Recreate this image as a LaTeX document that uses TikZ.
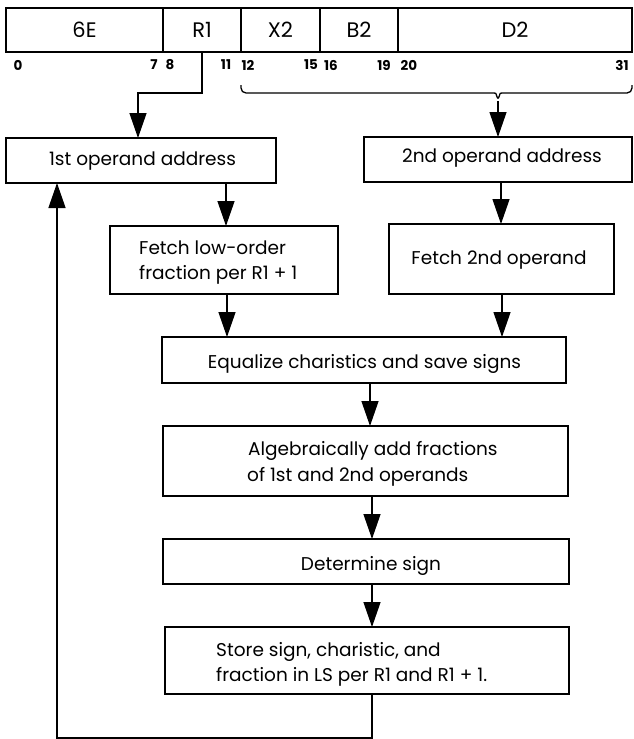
\documentclass[tikz,border=0pt]{standalone}
\usepackage{fontspec}
\setmainfont{Poppins}
\usetikzlibrary{arrows.meta}

\tikzset{
  stepbox/.style={draw, line width=2.2pt, inner sep=0pt, outer sep=0pt},
  field/.style={draw, line width=1.3pt, inner sep=0pt, outer sep=0pt,
    font=\fontsize{21}{24}\selectfont},
  bitno/.style={inner sep=0pt, font=\fontsize{13.5}{15}\selectfont\bfseries},
  label/.style={inner sep=0pt, anchor=base, font=\fontsize{18.5}{22}\selectfont},
  leftlabel/.style={label, anchor=base west},
  conn/.style={line width=1.3pt},
  arr/.style={conn, -{Triangle[length=25pt, width=17pt]}},
}

\begin{document}
\begin{tikzpicture}[x=1pt, y=-1pt]
\useasboundingbox (0,0) rectangle (634,739);

% instruction format fields
\node[field, minimum width=157pt, minimum height=44pt] (fE)  at (84.5,30) {6E};
\node[field, minimum width=78pt,  minimum height=44pt] (fR1) at (202,30)  {R1};
\node[field, minimum width=79pt,  minimum height=44pt] (fX2) at (280.5,30) {X2};
\node[field, minimum width=78pt,  minimum height=44pt] (fB2) at (359,30)  {B2};
\node[field, minimum width=234pt, minimum height=44pt] (fD2) at (515,30)  {D2};
\node[draw, line width=2pt, inner sep=0pt, minimum width=626pt, minimum height=44pt] (reg) at (319,30) {};

% bit positions
\node[bitno] (b0)  at (18,65)  {0};
\node[bitno] (b7)  at (154,65) {7};
\node[bitno] (b8)  at (170,65) {8};
\node[bitno] (b11) at (226,65) {11};
\node[bitno] (b12) at (248,65) {12};
\node[bitno] (b15) at (311,65) {15};
\node[bitno] (b16) at (331,65) {16};
\node[bitno] (b19) at (384,65) {19};
\node[bitno] (b20) at (409,65) {20};
\node[bitno] (b31) at (622,65) {31};

% flowchart boxes
\node[stepbox, minimum width=270pt, minimum height=45pt] (op1)    at (141,160.5)  {};
\node[stepbox, minimum width=268pt, minimum height=45pt] (op2)    at (498,159.5)  {};
\node[stepbox, minimum width=228pt, minimum height=68pt] (fetch1) at (224,260)    {};
\node[stepbox, minimum width=225pt, minimum height=70pt] (fetch2) at (501.5,259)  {};
\node[stepbox, minimum width=404pt, minimum height=46pt] (eq)     at (364,360)    {};
\node[stepbox, minimum width=405pt, minimum height=70pt] (alg)    at (365.5,461)  {};
\node[stepbox, minimum width=406pt, minimum height=45pt] (det)    at (366,561.5)  {};
\node[stepbox, minimum width=404pt, minimum height=67pt] (store)  at (367,660.5)  {};

% box texts
\node[label] (t-op1) at (142.5,165) {1st operand address};
\node[label] (t-op2) at (502,162)   {2nd operand address};
\node[leftlabel] (t-f1a) at (139,254) {Fetch low-order};
\node[leftlabel] (t-f1b) at (139,279) {fraction per R1 + 1};
\node[label] (t-f2) at (499,264)    {Fetch 2nd operand};
\node[label] (t-eq) at (364.5,368)  {Equalize charistics and save signs};
\node[leftlabel] (t-alga) at (248,455) {Algebraically add fractions};
\node[leftlabel] (t-algb) at (247,481) {of 1st and 2nd operands};
\node[label] (t-det) at (371,570)   {Determine sign};
\node[leftlabel] (t-sta) at (216,656) {Store sign, charistic, and};
\node[leftlabel] (t-stb) at (216,681) {fraction in LS per R1 and R1 + 1.};

% R1 feeds the first operand address
\coordinate (r1turn) at (202,93);
\coordinate (r1drop) at (138,93);
\draw[arr] (fR1.south) -- (r1turn) -- (r1drop) -- (op1.north -| r1drop);

% X2, B2, D2 combine into the second operand address
\coordinate (brL) at (241,85);
\coordinate (brR) at (632,85);
\coordinate (brC) at (498,101);
\draw[conn, rounded corners=5pt]
  (brL) -- (241,93) -- (489,93)
  .. controls (496,93) .. (brC)
  .. controls (500,93) .. (507,93) -- (632,93) -- (brR);
\draw[arr] (brC) -- (op2.north -| brC);

% main flow
\draw[arr] (op1.south -| 226,0) -- (fetch1.north -| 226,0);
\draw[arr] (op2.south -| 501,0) -- (fetch2.north -| 501,0);
\draw[arr] (fetch1.south -| 227,0) -- (eq.north -| 227,0);
\draw[arr] (fetch2.south -| 502,0) -- (eq.north -| 502,0);
\draw[arr] (eq.south -| 370,0) -- (alg.north -| 370,0);
\draw[arr] (alg.south -| 372,0) -- (det.north -| 372,0);
\draw[arr] (det.south -| 372,0) -- (store.north -| 372,0);

% loop back to the first operand address
\coordinate (loopA) at (372,738);
\coordinate (loopB) at (57,738);
\draw[arr] (store.south -| loopA) -- (loopA) -- (loopB) -- (op1.south -| loopB);
\end{tikzpicture}
\end{document}
